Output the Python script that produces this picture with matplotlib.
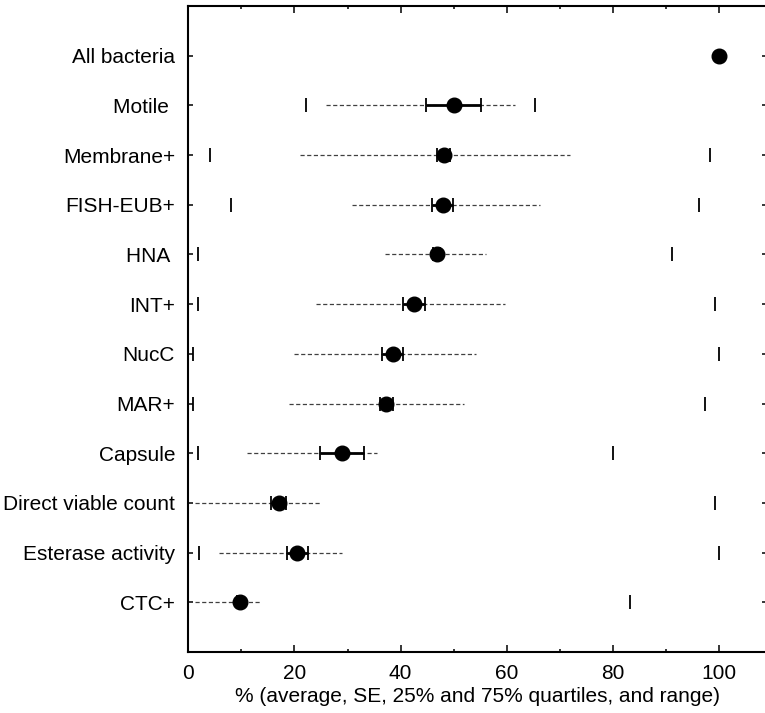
import numpy as np
import matplotlib
matplotlib.use('Agg')
import matplotlib.pyplot as plt

plt.rcParams['font.family'] = ['Liberation Sans', 'DejaVu Sans']
plt.rcParams['lines.scale_dashes'] = False

labels = ['All bacteria', 'Motile ', 'Membrane+', 'FISH-EUB+', 'HNA ', 'INT+',
          'NucC', 'MAR+', 'Capsule', 'Direct viable count', 'Esterase activity', 'CTC+']
mean = [100, 50.0, 48.1, 47.9, 46.8, 42.5, 38.5, 37.3, 29.0, 17.0, 20.5, 9.7]
se = [0, 5.2, 1.2, 2.0, 0.7, 2.0, 2.0, 1.2, 4.1, 1.4, 2.0, 0.5]
q25 = [np.nan, 25.9, 21.0, 30.9, 37.0, 24.0, 20.0, 19.0, 11.1, 1.3, 5.8, 1.3]
q75 = [np.nan, 61.6, 71.9, 66.2, 56.0, 59.6, 54.2, 51.9, 35.5, 25.0, 28.9, 13.7]
rmin = [np.nan, 22.2, 4.1, 8.1, 1.8, 1.8, 0.9, 0.9, 1.8, 0.0, 2.0, 0.0]
rmax = [np.nan, 65.3, 98.2, 96.1, 91.1, 99.2, 100, 97.3, 80.0, 99.2, 100, 83.1]

n = len(labels)
ypos = np.arange(n, 0, -1)

fig = plt.figure(figsize=(7.65, 7.13), dpi=100)
ax = fig.add_axes([0.2461, 0.0856, 0.7566, 0.906])

# quartile range, dashed
for y, a, b in zip(ypos, q25, q75):
    if np.isnan(a):
        continue
    line, = ax.plot([a, b], [y, y], color='0.25', lw=0.9, zorder=1)
    line.set_dashes((3.0, 1.8))

# min / max
ax.plot(rmin, ypos, ls='none', marker='|', ms=9.5, mew=1.3, color='black', zorder=2, clip_on=False)
ax.plot(rmax, ypos, ls='none', marker='|', ms=9.5, mew=1.3, color='black', zorder=2)

# SE
ax.errorbar(mean, ypos, xerr=se, fmt='none', ecolor='black', elinewidth=2.0,
            capsize=4.7, capthick=1.3, zorder=3)
# average
ax.plot(mean, ypos, ls='none', marker='o', ms=10.5, color='black', zorder=4)

ax.set_xlim(0, 109)
ax.set_ylim(0, 13)
ax.set_yticks(ypos)
ax.set_yticklabels(labels)
ax.set_xticks([0, 20, 40, 60, 80, 100])
ax.set_xticks(np.arange(10, 101, 20), minor=True)

ax.tick_params(axis='both', which='both', direction='in', colors='black', labelsize=15)
ax.tick_params(axis='x', which='major', length=5.3, width=1.1, top=True, pad=8.5)
ax.tick_params(axis='x', which='minor', length=2.2, width=1.1, top=True)
ax.tick_params(axis='y', which='major', length=3.6, width=1.1, right=True, pad=9.5)

for s in ax.spines.values():
    s.set_linewidth(1.5)

ax.set_xlabel('% (average, SE, 25% and 75% quartiles, and range)', fontsize=15, labelpad=3)

plt.savefig('out.png', dpi=100)
